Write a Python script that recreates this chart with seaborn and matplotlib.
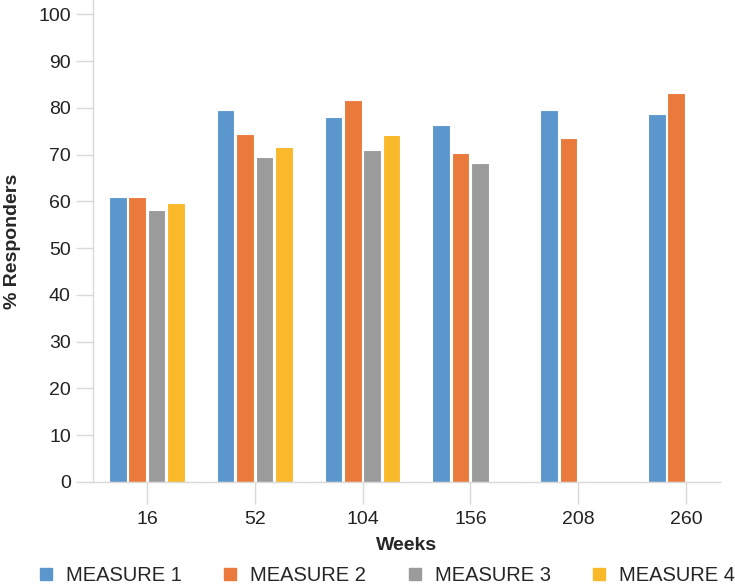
import numpy as np
import pandas as pd
import matplotlib
matplotlib.use("Agg")
import matplotlib.pyplot as plt
from matplotlib.lines import Line2D
import seaborn as sns

# dados
semanas = ["16", "52", "104", "156", "208", "260"]
medidas = ["MEASURE 1", "MEASURE 2", "MEASURE 3", "MEASURE 4"]
measure1 = [61.0, 79.6, 78.0, 76.4, 79.5, 78.7]
measure2 = [61.0, 74.4, 81.7, 70.3, 73.5, 83.2]
measure3 = [58.2, 69.6, 71.0, 68.3, np.nan, np.nan]
measure4 = [59.7, 71.6, 74.2, np.nan, np.nan, np.nan]
cores = ["#5B97CC", "#E97A3B", "#9A9B9A", "#FAB92B"]

df = pd.DataFrame({
    "Weeks": semanas * 4,
    "Medida": [m for m in medidas for _ in semanas],
    "Valor": measure1 + measure2 + measure3 + measure4,
})

sns.set_style("white")
plt.rcParams["font.family"] = ["Liberation Sans", "DejaVu Sans"]

fig = plt.figure(figsize=(7.35, 5.86), dpi=100)
ax = fig.add_axes([93 / 735, 1 - 482 / 586, 627 / 735, 482 / 586])

sns.barplot(data=df, x="Weeks", y="Valor", hue="Medida", order=semanas,
            hue_order=medidas, palette=cores, saturation=1, width=0.72, gap=0.1,
            edgecolor="white", linewidth=0.8, errorbar=None, ax=ax)

ax.set_xlim(-0.5, 5.316)
ax.set_ylim(0, 103.1)
ax.set_yticks(range(0, 101, 10))
ax.tick_params(axis="y", labelsize=14, length=12, width=1, color="#D9D9D9",
               pad=4, left=True, labelcolor="#222222")
ax.tick_params(axis="x", labelsize=14, length=16, width=1, color="#D9D9D9",
               pad=5, bottom=True, labelcolor="#222222")
for lado in ["top", "right"]:
    ax.spines[lado].set_visible(False)
for lado in ["left", "bottom"]:
    ax.spines[lado].set_color("#D9D9D9")
    ax.spines[lado].set_linewidth(1)

ax.set_xlabel("Weeks", fontsize=14, fontweight="bold", labelpad=6)
ax.set_ylabel("% Responders", fontsize=14, fontweight="bold", labelpad=12)
ax.get_legend().remove()

# legenda embaixo
handles = [Line2D([0], [0], marker="s", linestyle="none", markersize=8,
                  markerfacecolor=c, markeredgecolor=c) for c in cores]
fig.legend(handles, medidas, loc="lower center", bbox_to_anchor=(0.526, -0.03),
           ncol=4, frameon=False, fontsize=14.5, handlelength=0.8,
           handletextpad=0.6, columnspacing=2.0)

fig.savefig("out.png", dpi=100)
